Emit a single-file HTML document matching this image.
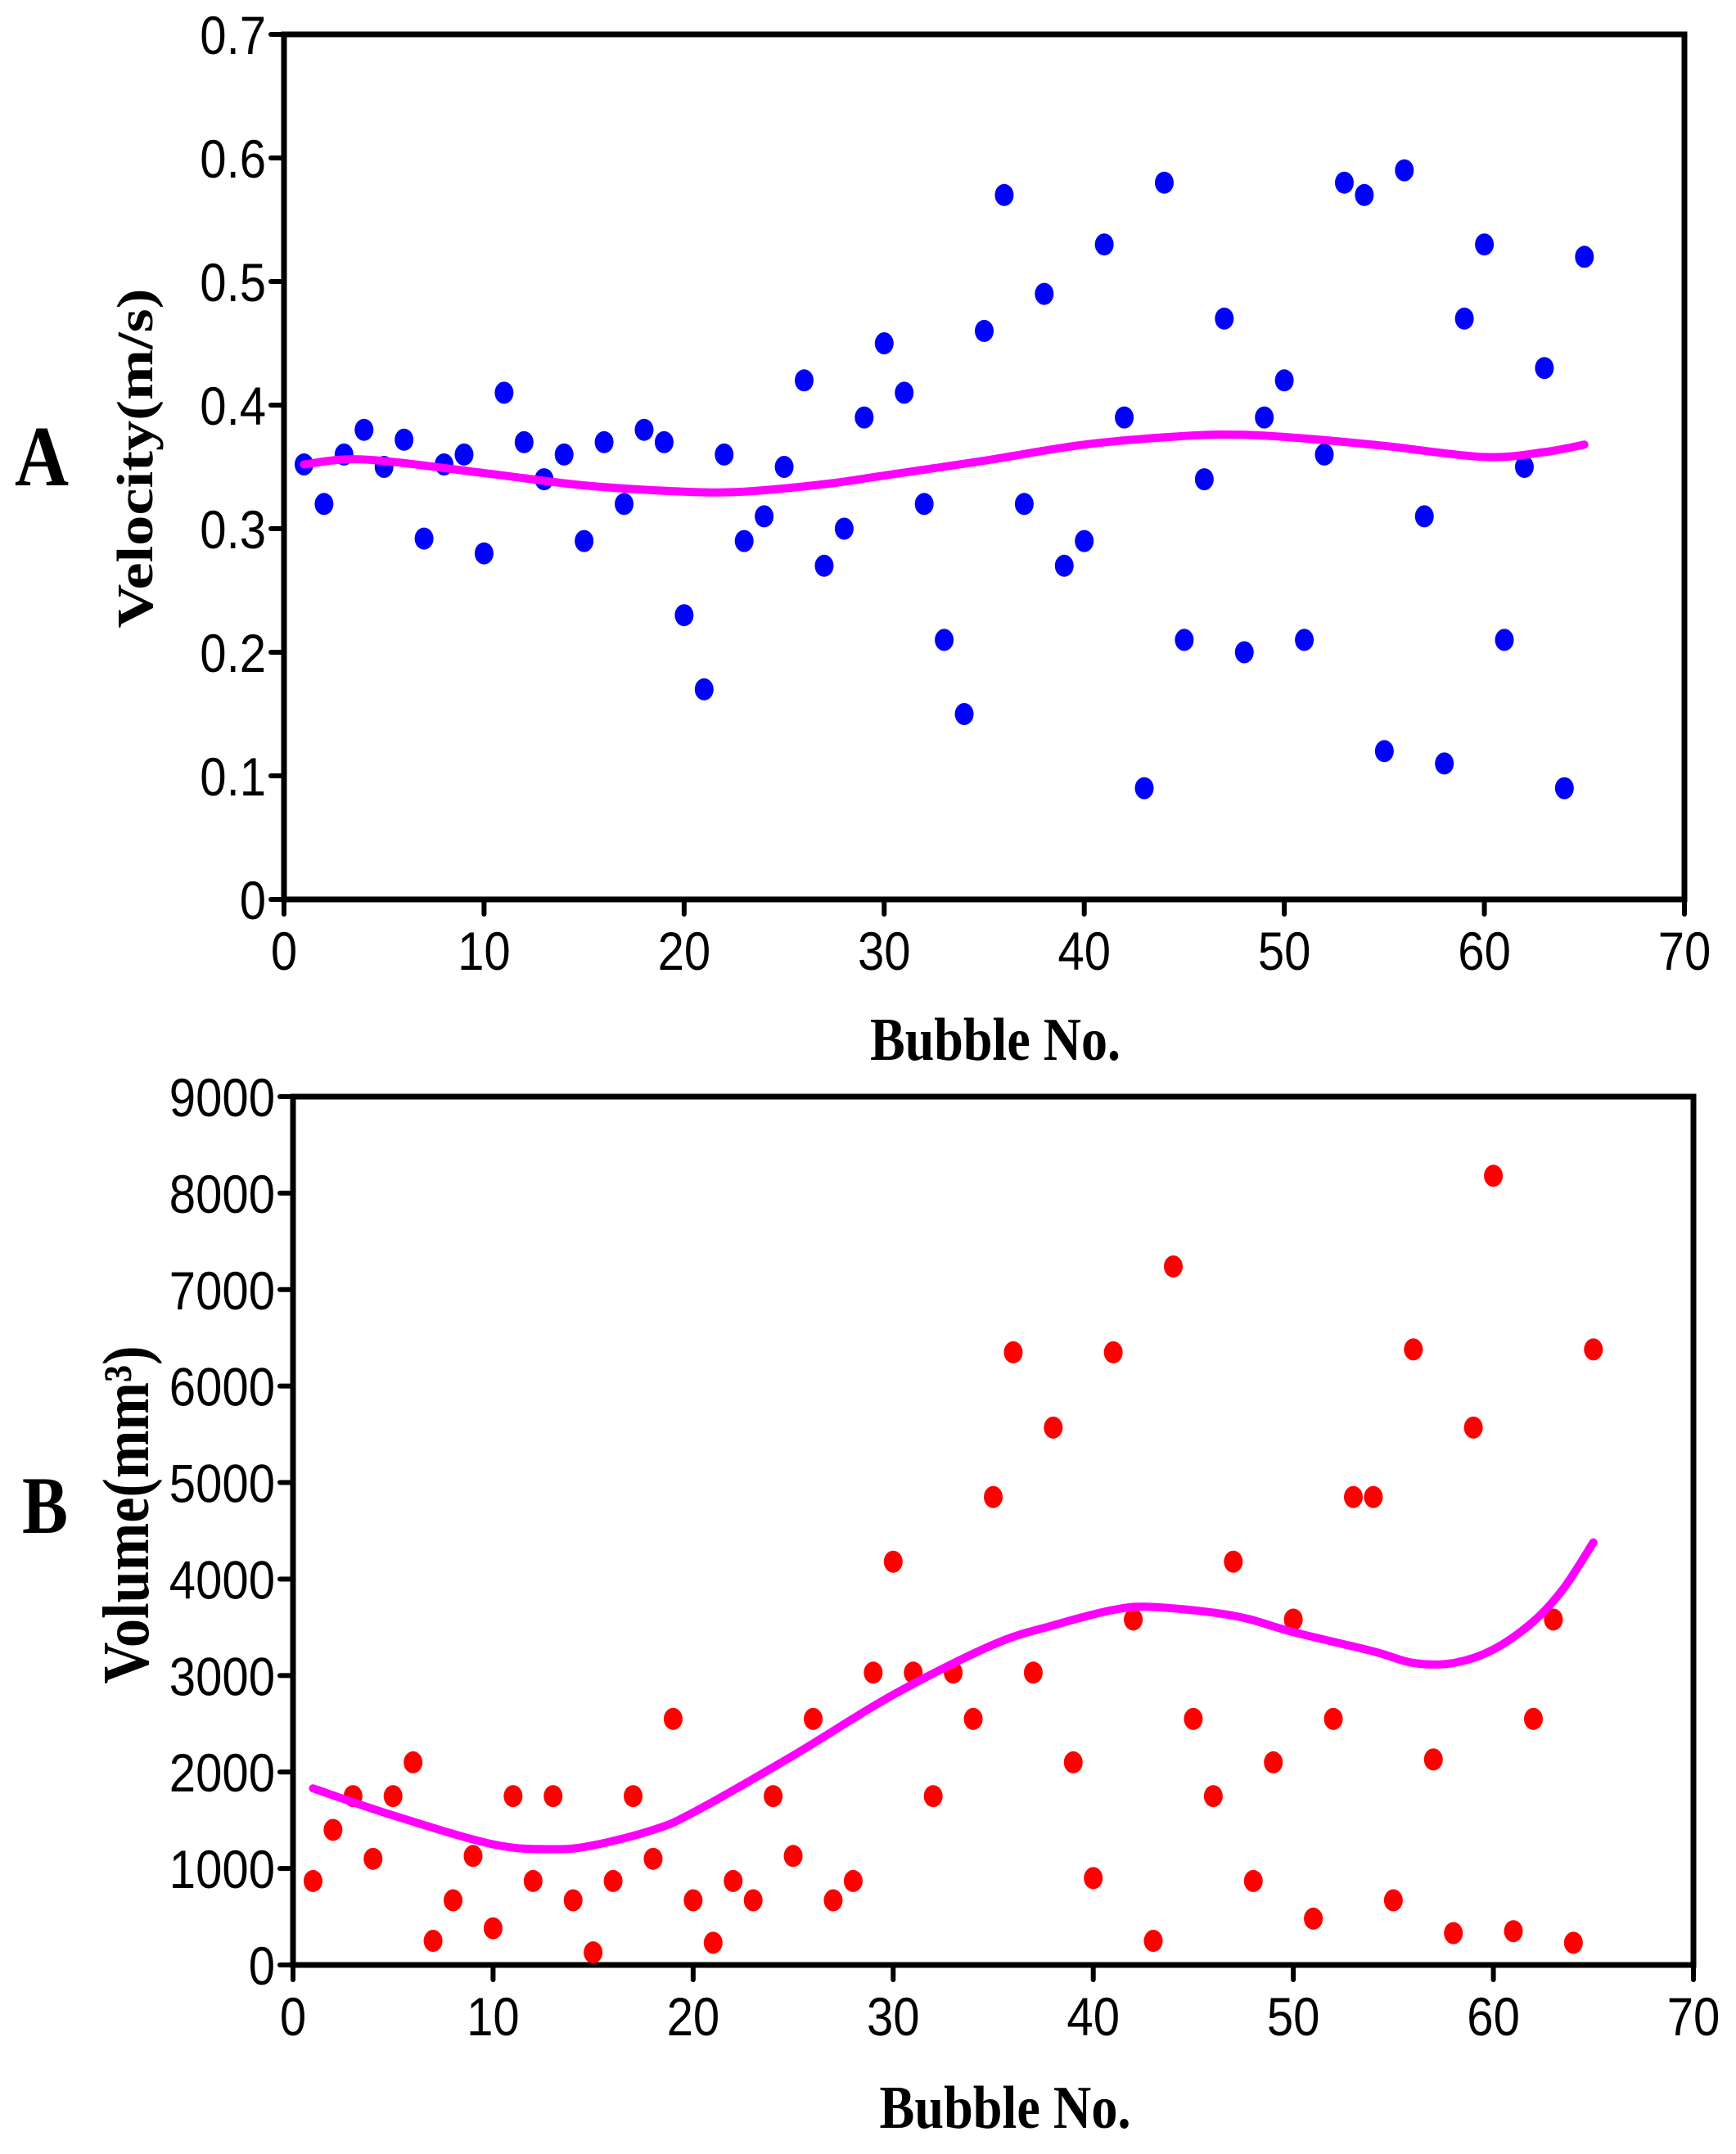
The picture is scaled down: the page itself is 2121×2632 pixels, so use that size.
<!DOCTYPE html>
<html><head><meta charset="utf-8"><style>
html,body{margin:0;padding:0;background:#fff;}
svg{display:block;}
.tick{font-family:"Liberation Sans",sans-serif;font-size:66px;fill:#000;}
.ttl{font-family:"Liberation Serif",serif;font-weight:bold;fill:#000;}
</style></head><body>
<svg id="fig" width="2121" height="2632" viewBox="0 0 2121 2632" xmlns="http://www.w3.org/2000/svg">
<g id="chartA"></g>
<g id="chartB"></g>
<text class="ttl" x="18" y="593" font-size="105" textLength="66" lengthAdjust="spacingAndGlyphs">A</text>
<text class="ttl" x="27" y="1873" font-size="100" textLength="56" lengthAdjust="spacingAndGlyphs">B</text>
<text class="ttl" font-size="62" text-anchor="middle" textLength="415" lengthAdjust="spacingAndGlyphs" transform="translate(186,560) rotate(-90)">Velocity(m/s)</text>
<text class="ttl" font-size="80" text-anchor="middle" textLength="413" lengthAdjust="spacingAndGlyphs" transform="translate(181,1851) rotate(-90)">Volume(mm³)</text>
<text class="ttl" x="1216" y="1295" font-size="74" text-anchor="middle" textLength="306" lengthAdjust="spacingAndGlyphs">Bubble No.</text>
<text class="ttl" x="1228" y="2600" font-size="74" text-anchor="middle" textLength="307" lengthAdjust="spacingAndGlyphs">Bubble No.</text>
</svg>
<script>
const NS="http://www.w3.org/2000/svg";
const bubbleNo=[];for(let i=1;i<=65;i++)bubbleNo.push(i);
const velocity=[0.352,0.32,0.36,0.38,0.35,0.372,0.292,0.352,0.36,0.28,0.41,0.37,0.34,0.36,0.29,0.37,0.32,0.38,0.37,0.23,0.17,0.36,0.29,0.31,0.35,0.42,0.27,0.30,0.39,0.45,0.41,0.32,0.21,0.15,0.46,0.57,0.32,0.49,0.27,0.29,0.53,0.39,0.09,0.58,0.21,0.34,0.47,0.20,0.39,0.42,0.21,0.36,0.58,0.57,0.12,0.59,0.31,0.11,0.47,0.53,0.21,0.35,0.43,0.09,0.52];
const velFitX=[1,4,10,15,20,23,27,30,35,40,45,48,51,55,60,63,65];
const velFitY=[0.352,0.356,0.345,0.335,0.330,0.330,0.336,0.343,0.355,0.368,0.375,0.376,0.373,0.367,0.358,0.362,0.368];
const volume=[870,1400,1750,1100,1750,2100,250,670,1130,380,1750,870,1750,670,130,870,1750,1100,2550,670,230,870,670,1750,1130,2550,670,870,3030,4180,3030,1750,3030,2550,4850,6350,3030,5570,2100,900,6350,3580,250,7240,2550,1750,4180,870,2100,3580,480,2550,4850,4850,670,6380,2130,330,5570,8180,350,2550,3580,230,6380];
const volFitX=[1,5,10,13,15,18,20,25,30,35,38,41,43,47,50,54,56,58,60,62,63.5,65];
const volFitY=[1830,1550,1250,1200,1240,1400,1580,2170,2800,3320,3520,3680,3710,3620,3450,3250,3130,3130,3270,3560,3900,4380];
const xTicks=[0,10,20,30,40,50,60,70];
const velTicks=["0","0.1","0.2","0.3","0.4","0.5","0.6","0.7"];
const volTicks=["0","1000","2000","3000","4000","5000","6000","7000","8000","9000"];

function mk(tag,attrs,parent){const e=document.createElementNS(NS,tag);for(const k in attrs)e.setAttribute(k,attrs[k]);parent.appendChild(e);return e;}

function chart(g,cfg){
  const sx=v=>cfg.x0+(v-0)/70*(cfg.x1-cfg.x0);
  const sy=v=>cfg.y0-(v)/cfg.ymax*(cfg.y0-cfg.y1);
  const f=mk('rect',{x:cfg.x0,y:cfg.y1,width:cfg.x1-cfg.x0,height:cfg.y0-cfg.y1,fill:'none',stroke:'#000','stroke-width':7},g);
  
  
  xTicks.forEach(t=>{
    const l=mk('line',{x1:sx(t),x2:sx(t),y1:cfg.y0,y2:cfg.y0+18,stroke:'#000','stroke-width':6,'stroke-linecap':'round'},g);
    
    
    const tx=mk('text',{class:'tick','text-anchor':'middle',transform:`translate(${sx(t)},${cfg.y0+86}) scale(0.88,1)`},g);
    tx.textContent=t;
    
    
  });
  cfg.ticks.forEach(s=>{
    const v=parseFloat(s);
    const l=mk('line',{x1:cfg.x0-16,x2:cfg.x0,y1:sy(v),y2:sy(v),stroke:'#000','stroke-width':6,'stroke-linecap':'round'},g);
    
    
    const tx=mk('text',{class:'tick','text-anchor':'end',transform:`translate(${cfg.x0-22},${sy(v)+24}) scale(0.88,1)`},g);
    tx.textContent=s;
    
    
  });
  cfg.data.forEach((v,i)=>{
    const c=mk('ellipse',{cx:sx(bubbleNo[i]),cy:sy(v),rx:11.5,ry:13.5,fill:cfg.color},g);
    
    
  });
  const pts=cfg.fx.map((x,i)=>[sx(x),sy(cfg.fy[i])]);
  let d=`M${pts[0][0]},${pts[0][1]}`;
  for(let i=0;i<pts.length-1;i++){
    const p0=pts[Math.max(0,i-1)],p1=pts[i],p2=pts[i+1],p3=pts[Math.min(pts.length-1,i+2)];
    d+=` C${p1[0]+(p2[0]-p0[0])/6},${p1[1]+(p2[1]-p0[1])/6} ${p2[0]-(p3[0]-p1[0])/6},${p2[1]-(p3[1]-p1[1])/6} ${p2[0]},${p2[1]}`;
  }
  const pl=mk('path',{d:d,fill:'none',stroke:'#ff00ff','stroke-width':10,'stroke-linecap':'round'},g);
  
  
}
chart(document.getElementById('chartA'),{x0:347,x1:2058,y0:1099,y1:42,ymax:0.7,ticks:velTicks,data:velocity,color:'#0000ff',fx:velFitX,fy:velFitY});
chart(document.getElementById('chartB'),{x0:358,x1:2069,y0:2401,y1:1340,ymax:9000,ticks:volTicks,data:volume,color:'#ff0000',fx:volFitX,fy:volFitY});
</script>
</body></html>
